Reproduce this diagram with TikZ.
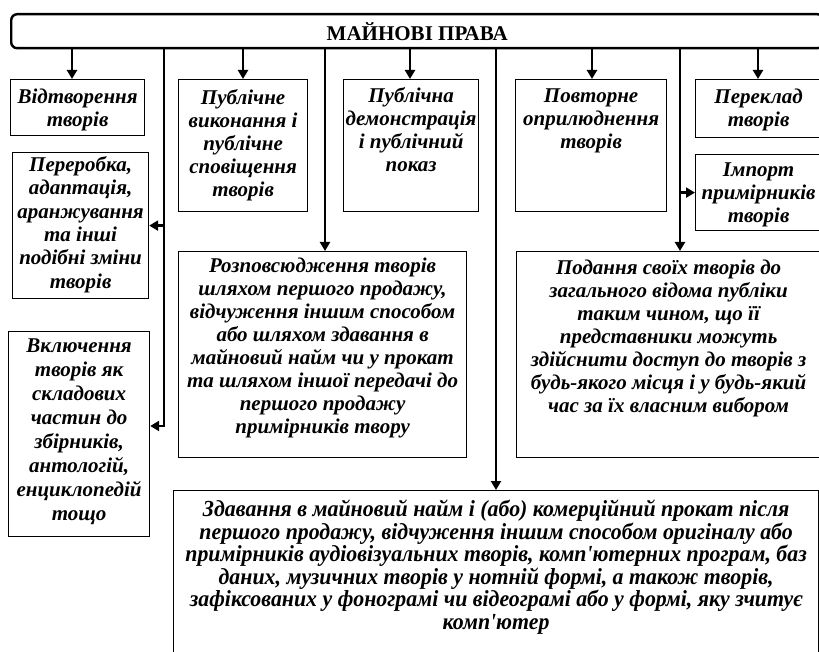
\documentclass[tikz,border=0pt]{standalone}
\usepackage{fontspec}
\setmainfont{Liberation Serif}
\newfontfamily\narrowfont[FakeStretch=0.95]{Liberation Serif}
\usetikzlibrary{arrows.meta}
\tikzset{cell/.style={draw, line width=1.2pt, inner sep=0, anchor=north west}}
\tikzset{txt/.style={align=center, inner sep=8pt, font=\fontsize{21}{23}\selectfont\bfseries\itshape}}
\tikzset{loose/.style={font=\fontsize{21}{24}\selectfont\bfseries\itshape}}
\tikzset{link/.style={line width=2.6pt}}
\tikzset{arr/.style={link, -{Triangle[length=9pt,width=10pt]}}}

\begin{document}
\begin{tikzpicture}[x=1pt,y=-1pt]
\useasboundingbox (0,0) rectangle (819,652);
\clip (0,0) rectangle (819,652);

%\draw (0,0) rectangle (819,652);
\node[draw, line width=2.4pt, rounded corners=6pt, anchor=north west, minimum width=812pt, minimum height=34pt,
  font=\fontsize{21}{22}\selectfont\bfseries] (prava) at (10,13) {МАЙНОВІ ПРАВА};

\node[cell, minimum width=134pt, minimum height=56pt] (vidtv) at (10,79) {};
\node[txt, inner sep=10pt] (vidtv-t) at (vidtv.north)[below] {Відтворення\\творів};
\node[cell, minimum width=136pt, minimum height=146pt] (pererob) at (12,152) {};
\node[txt, font=\fontsize{21}{23.4}\selectfont\bfseries\itshape, inner sep=4pt] (pererob-t) at (pererob.north)[below] {Переробка,\\адаптація,\\аранжування\\та інші\\подібні зміни\\творів};
\node[cell, minimum width=141pt, minimum height=205pt] (vkluch) at (8,331) {};
\node[txt, loose] (vkluch-t) at (vkluch.north)[below] {Включення\\творів як\\складових\\частин до\\збірників,\\антологій,\\енциклопедій\\тощо};

\node[cell, minimum width=129pt, minimum height=132pt] (pubvyk) at (178,79) {};
\node[txt, inner sep=10pt] (pubvyk-t) at (pubvyk.north)[below] {Публічне\\виконання і\\публічне\\сповіщення\\творів};
\node[cell, minimum width=135pt, minimum height=132pt] (pubdem) at (343,79) {};
\node[txt] (pubdem-t) at (pubdem.north)[below] {Публічна\\демонстрація\\і публічний\\показ};
\node[cell, minimum width=151pt, minimum height=132pt] (povtor) at (515,79) {};
\node[txt, inner sep=10pt] (povtor-t) at (povtor.north)[below] {Повторне\\оприлюднення\\творів};
\node[cell, minimum width=126pt, minimum height=58pt] (perekl) at (695,79) {};
\node[txt, inner sep=10pt] (perekl-t) at (perekl.north)[below] {Переклад\\творів};
\node[cell, minimum width=126pt, minimum height=76pt] (import) at (695,154) {};
\node[txt, inner sep=9pt] (import-t) at (import.north)[below] {Імпорт\\примірників\\творів};

\node[cell, minimum width=288pt, minimum height=206pt] (rozpovs) at (178,251) {};
\node[txt, inner sep=7pt] (rozpovs-t) at (rozpovs.north)[below] {Розповсюдження творів\\шляхом першого продажу,\\відчуження іншим способом\\або шляхом здавання в\\майновий найм чи у прокат\\та шляхом іншої передачі до\\першого продажу\\примірників твору};
\node[cell, minimum width=304pt, minimum height=206pt] (podannya) at (516,251) {};
\node[txt, inner sep=9pt] (podannya-t) at (podannya.north)[below] {Подання своїх творів до\\загального відома публіки\\таким чином, що її\\представники можуть\\здійснити доступ до творів з\\будь-якого місця і у будь-який\\час за їх власним вибором};

\node[cell, minimum width=645pt, minimum height=180pt] (zdav) at (173,490) {};
\node[txt, inner sep=10pt, font=\fontsize{23}{22.5}\selectfont\narrowfont\bfseries\itshape] (zdav-t) at (zdav.north)[below]
  {Здавання в майновий найм і (або) комерційний прокат після\\першого продажу, відчуження іншим способом оригіналу або\\примірників аудіовізуальних творів, комп'ютерних програм, баз\\даних, музичних творів у нотній формі, а також творів,\\зафіксованих у фонограмі чи відеограмі або у формі, яку зчитує\\комп'ютер};

% trunks under the bar
\coordinate (c1) at (72,47);
\coordinate (c2) at (164,47);
\coordinate (c2e) at (164,426);
\coordinate (c3) at (243,47);
\coordinate (c4) at (325,47);
\coordinate (c5) at (410,47);
\coordinate (c6) at (496,47);
\coordinate (c7) at (592,47);
\coordinate (c8) at (680,47);
\coordinate (c9) at (758,47);

\draw[arr] (c1) -- (c1 |- vidtv.north);
\draw[arr] (c2) |- (c2e -| vkluch.east);
\draw[arr] (c2 |- pererob.east) -- (pererob.east);
\draw[arr] (c3) -- (c3 |- pubvyk.north);
\draw[arr] (c4) -- (c4 |- rozpovs.north);
\draw[arr] (c5) -- (c5 |- pubdem.north);
\draw[arr] (c6) -- (c6 |- zdav.north);
\draw[arr] (c7) -- (c7 |- povtor.north);
\draw[arr] (c8) -- (c8 |- podannya.north);
\draw[arr] (c8 |- import.west) -- (import.west);
\draw[arr] (c9) -- (c9 |- perekl.north);
\end{tikzpicture}
\end{document}
